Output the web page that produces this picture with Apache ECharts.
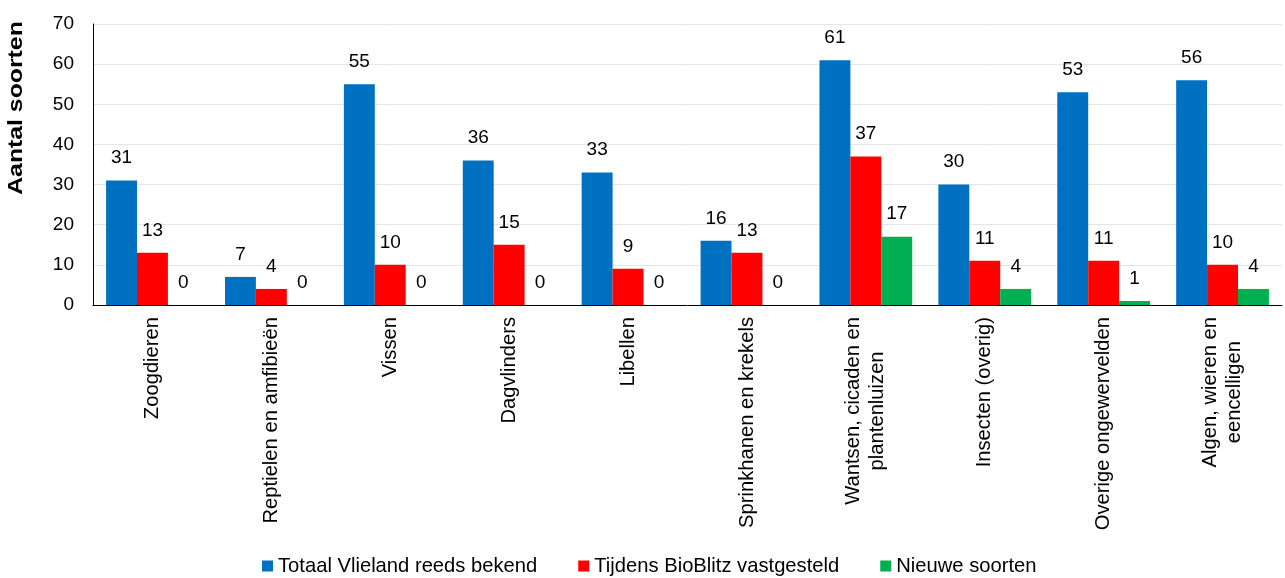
<!DOCTYPE html>
<html>
<head>
<meta charset="utf-8">
<script src="https://cdn.jsdelivr.net/npm/echarts@6/dist/echarts.min.js"></script>
<style>html,body{margin:0;padding:0;background:#fff}#c{width:1285px;height:578px}</style>
</head>
<body>
<div id="c"></div>
<script>
const categories = ["Zoogdieren","Reptielen en amfibieën","Vissen","Dagvlinders","Libellen","Sprinkhanen en krekels","Wantsen, cicaden en\nplantenluizen","Insecten (overig)","Overige ongewervelden","Algen, wieren en\neencelligen"];
const seriesNames = ["Totaal Vlieland reeds bekend","Tijdens BioBlitz vastgesteld","Nieuwe soorten"];
const totaalBekend = [31,7,55,36,33,16,61,30,53,56];
const bioBlitz = [13,4,10,15,9,13,37,11,11,10];
const nieuwe = [0,0,0,0,0,0,17,4,1,4];
const colors = ["#0070C0","#FF0000","#00B050"];
const yTitle = "Aantal soorten";

const font = "'Liberation Sans', Arial, sans-serif";
const chart = echarts.init(document.getElementById('c'));
const lbl = {show:true, position:'top', distance:13, color:'#000', fontSize:19, fontFamily:font};
chart.setOption({
  animation:false,
  textStyle:{fontFamily:font},
  grid:{left:93, right:3, top:24, bottom:273},
  legend:{top:551, left:257, icon:'rect', itemWidth:11, itemHeight:11, itemGap:41,
    textStyle:{fontSize:20.2, color:'#000', fontFamily:font}},
  graphic:[{type:'text', x:16, y:108, rotation:Math.PI/2, scaleX:1.24,
    style:{text:yTitle, font:"bold 20px "+font, fill:'#000', align:'center', verticalAlign:'middle'}}],
  xAxis:{type:'category', data:categories,
    axisLine:{lineStyle:{color:'#000', width:1}}, axisTick:{show:false},
    axisLabel:{interval:0, rotate:90, margin:12, color:'#000', fontSize:20.2, fontFamily:font, lineHeight:24,
      formatter: v => '{a|' + v.split('\n').join('}\n{a|') + '}',
      rich:{a:{align:'center', fontSize:20.2, fontFamily:font, color:'#000', lineHeight:24}}}},
  yAxis:{type:'value', min:0, max:70, interval:10,
    axisLine:{show:true, lineStyle:{color:'#000', width:1}}, axisTick:{show:false},
    splitLine:{lineStyle:{color:'#e6e6e6', width:1}},
    axisLabel:{color:'#000', fontSize:19, fontFamily:font, margin:19}},
  series:[
    {name:seriesNames[0], type:'bar', data:totaalBekend, itemStyle:{color:colors[0]}, barGap:'0%', barCategoryGap:'22%', label:lbl},
    {name:seriesNames[1], type:'bar', data:bioBlitz, itemStyle:{color:colors[1]}, barGap:'0%', barCategoryGap:'22%', label:lbl},
    {name:seriesNames[2], type:'bar', data:nieuwe, itemStyle:{color:colors[2]}, barGap:'0%', barCategoryGap:'22%', label:lbl}
  ]
});
</script>
</body>
</html>
